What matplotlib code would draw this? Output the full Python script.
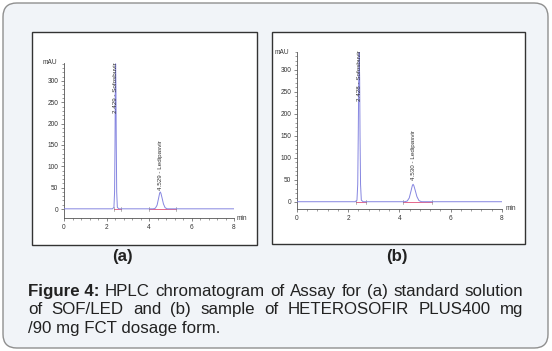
import numpy as np
import matplotlib
matplotlib.use("Agg")
import matplotlib.pyplot as plt
from matplotlib.patches import FancyBboxPatch, Rectangle

# ---------------- data ----------------
# panel (a): standard solution
t_a = [0.0, 2.28, 2.35, 2.38, 2.40, 2.415, 2.429, 2.445, 2.46, 2.48, 2.51, 2.58,
       4.20, 4.30, 4.38, 4.45, 4.50, 4.529, 4.56, 4.61, 4.68, 4.76, 4.86, 8.0]
y_a = [0.5, 0.5, 4, 40, 150, 280, 340, 280, 150, 40, 4, 0.5,
       0.5, 2, 9, 25, 37, 40, 37, 27, 12, 3, 0.5, 0.5]
# panel (b): sample
t_b = [0.0, 2.27, 2.34, 2.37, 2.39, 2.41, 2.428, 2.445, 2.46, 2.48, 2.51, 2.58,
       4.20, 4.30, 4.38, 4.45, 4.50, 4.530, 4.56, 4.61, 4.68, 4.76, 4.86, 8.0]
y_b = [0.5, 0.5, 4, 40, 150, 280, 340, 280, 150, 40, 4, 0.5,
       0.5, 2, 9, 25, 37, 40, 37, 27, 12, 3, 0.5, 0.5]

# integration baselines (start, end) per peak
base_a = [(2.33, 2.68), (4.02, 5.25)]
base_b = [(2.30, 2.70), (4.15, 5.25)]

# peak labels: (time, bottom level, text)
labels_a = [(2.429, 225, "2.429 - Sofosbuvir"), (4.529, 45, "4.529 - Ledipasvir")]
labels_b = [(2.428, 228, "2.428 - Sofosbuvir"), (4.530, 49, "4.530 - Ledipasvir")]

y_ticks = [0, 50, 100, 150, 200, 250, 300]
x_ticks = [0, 2, 4, 6, 8]
panel_names = ["(a)", "(b)"]

caption_lines = [
    [("Figure 4:", "bold"), ("HPLC", "normal"), ("chromatogram", "normal"), ("of", "normal"),
     ("Assay", "normal"), ("for", "normal"), ("(a)", "normal"), ("standard", "normal"),
     ("solution", "normal")],
    [("of", "normal"), ("SOF/LED", "normal"), ("and", "normal"), ("(b)", "normal"),
     ("sample", "normal"), ("of", "normal"), ("HETEROSOFIR", "normal"),
     ("PLUS400", "normal"), ("mg", "normal")],
    [("/90 mg FCT dosage form.", "normal")],
]

# ---------------- layout ----------------
W, H = 552, 351
fig = plt.figure(figsize=(W / 100, H / 100), dpi=100)
fig.patch.set_facecolor("white")
FONT = ["Liberation Sans", "DejaVu Sans"]
CAP_FS = 12.2
SMALL_FS = 4.7


def fx(x):
    return x / W


def fy(y):
    return 1 - y / H


# outer rounded box
outer = FancyBboxPatch((fx(3), fy(348)), fx(545), 345 / H,
                       boxstyle="round,pad=0,rounding_size=0.025",
                       transform=fig.transFigure, facecolor="#f1f4f8",
                       edgecolor="#8f8f8f", linewidth=1.0, mutation_aspect=W / H,
                       zorder=-10)
fig.patches.append(outer)

# white panels
for (x0, y0, x1, y1) in [(32, 32, 257, 245), (272, 32, 525, 244)]:
    fig.patches.append(Rectangle((fx(x0), fy(y1)), fx(x1 - x0), (y1 - y0) / H,
                                 transform=fig.transFigure, facecolor="white",
                                 edgecolor="#333333", linewidth=1.0, zorder=-5))

axes_specs = [
    dict(px=(64, 234, 63, 218), ylim=(-21, 342), t=t_a, y=y_a, base=base_a, lab=labels_a),
    dict(px=(297, 502, 52, 209), ylim=(-16, 336), t=t_b, y=y_b, base=base_b, lab=labels_b),
]

trace_c = "#8585e0"
base_c = "#e0507a"
axis_c = "#555555"

for spec in axes_specs:
    l, r, tp, bt = spec["px"]
    ax = fig.add_axes([fx(l), fy(bt), fx(r - l), (bt - tp) / H])
    ax.set_facecolor("none")
    ax.plot(spec["t"], spec["y"], color=trace_c, lw=0.7, zorder=3)
    for (s, e) in spec["base"]:
        ax.plot([s, e], [0, 0], color=base_c, lw=0.6, zorder=2)
        for xx in (s, e):
            ax.plot([xx, xx], [-5, 4], color="#777777", lw=0.4, zorder=2)
    for (tt, yb, txt) in spec["lab"]:
        ax.text(tt, yb, txt, rotation=90, ha="center", va="bottom",
                fontsize=4.5, color="#333333", family=FONT)
    ax.set_xlim(0, 8)
    ax.set_ylim(*spec["ylim"])
    for s in ("top", "right"):
        ax.spines[s].set_visible(False)
    for s in ("left", "bottom"):
        ax.spines[s].set_color(axis_c)
        ax.spines[s].set_linewidth(0.6)
    ax.set_xticks(x_ticks)
    ax.set_yticks(y_ticks)
    ax.set_xticks(np.arange(0, 8.01, 0.4), minor=True)
    ax.set_yticks(np.arange(0, 341, 10), minor=True)
    ax.tick_params(axis="both", which="major", labelsize=SMALL_FS, length=2.5, width=0.5,
                   colors=axis_c, pad=1.5)
    ax.tick_params(axis="both", which="minor", length=1.2, width=0.4, colors=axis_c)
    for lab in ax.get_xticklabels() + ax.get_yticklabels():
        lab.set_family(FONT)
        lab.set_color("#333333")
    ax.text(-0.04, 1.0, "mAU", transform=ax.transAxes, ha="right", va="center",
            fontsize=SMALL_FS, color="#333333", family=FONT)
    ax.text(1.015, 0.0, "min", transform=ax.transAxes, ha="left", va="center",
            fontsize=SMALL_FS, color="#333333", family=FONT)

# panel names
for name, xc in zip(panel_names, [122, 397]):
    fig.text(fx(xc), fy(256), name, ha="center", va="center", fontsize=CAP_FS,
             fontweight="bold", color="#222222", family=FONT)

# caption with justification
renderer = fig.canvas.get_renderer()
left_px, right_px = 28, 523
line_y = [290, 308, 327]
for li, (words, yy) in enumerate(zip(caption_lines, line_y)):
    texts = []
    for (w, wt) in words:
        t = fig.text(0, fy(yy + 6), w, ha="left", va="baseline", fontsize=CAP_FS,
                     fontweight=wt, color="#222222", family=FONT)
        texts.append(t)
    widths = [t.get_window_extent(renderer).width for t in texts]
    if len(texts) > 1 and li < len(caption_lines) - 1:
        gap = (right_px - left_px - sum(widths)) / (len(texts) - 1)
    else:
        gap = 4
    x = left_px
    for t, wdt in zip(texts, widths):
        t.set_x(fx(x))
        x += wdt + gap

fig.savefig("out.png", dpi=100)
